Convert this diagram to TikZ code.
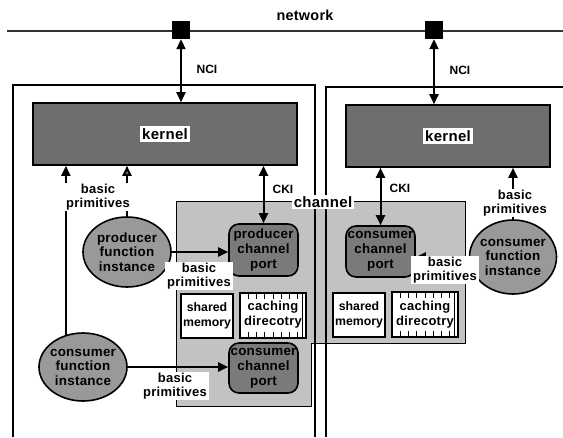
\documentclass[tikz,border=0pt]{standalone}
\usepackage{fontspec}
\setmainfont{Liberation Sans}
\newfontfamily\spfont[LetterSpace=2]{Liberation Sans}
\usetikzlibrary{arrows.meta,shapes.geometric}
\tikzset{
  netline/.style={line width=2.6pt, black!80},
  sqr/.style={fill=black, minimum size=18pt, inner sep=0pt},
  boxline/.style={line width=2.4pt, line join=miter},
  kern/.style={draw, line width=1.6pt, fill=black!57, inner sep=0pt},
  klbl/.style={fill=white, inner sep=2pt, font=\fontsize{15}{17}\spfont\bfseries},
  chregion/.style={draw, line width=0.8pt, fill=black!24},
  port/.style={draw, line width=1.6pt, fill=black!52, rounded corners=10pt, minimum width=69pt, inner sep=0pt, align=center, font=\fontsize{13.4}{15}\spfont\bfseries},
  fi/.style={ellipse, draw, line width=1.6pt, fill=black!40, inner sep=0pt},
  fitext/.style={align=center, inner sep=0pt, font=\fontsize{13.4}{14.5}\spfont\bfseries},
  membox/.style={draw, line width=2pt, fill=white, minimum width=52pt, minimum height=44pt, inner sep=0pt, align=center, font=\fontsize{12.3}{15}\selectfont\bfseries},
  cachebox/.style={draw, line width=2pt, fill=white, minimum width=66pt, minimum height=45pt, inner sep=0pt, align=center, font=\fontsize{13}{15}\spfont\bfseries,
    path picture={
      \foreach \i in {1,...,7}{
        \draw[line width=1pt] ([xshift=\i*8.25pt]path picture bounding box.north west) -- ++(0,6);
        \draw[line width=1pt] ([xshift=\i*8.25pt]path picture bounding box.south west) -- ++(0,-6);
      }
      \draw[line width=1pt] ([xshift=-4pt]path picture bounding box.north east) -- ([xshift=-4pt]path picture bounding box.south east);
    }},
  lbl/.style={fill=white, align=center, inner xsep=2pt, inner ysep=1pt, font=\fontsize{13}{14.5}\spfont\bfseries},
  ifc/.style={inner sep=1pt, font=\fontsize{12}{13}\selectfont\bfseries},
  chlbl/.style={fill=white, inner sep=1.5pt, font=\fontsize{15}{17}\spfont\bfseries},
  netlbl/.style={inner sep=1pt, font=\fontsize{14.4}{16}\spfont\bfseries},
  arr/.style={line width=2pt, -{Triangle[length=10pt,width=9pt]}},
  garr/.style={line width=2pt, -{Triangle[length=10pt,width=9pt,fill=black!55]}},
  dbl/.style={line width=2pt, {Triangle[length=10pt,width=9pt]}-{Triangle[length=10pt,width=9pt]}},
}
\begin{document}
\begin{tikzpicture}[x=1pt,y=-1pt]
\useasboundingbox (0,0) rectangle (563,437);
\fill[white] (0,0) rectangle (563,437);

% channel region
\path[chregion] (176,201) -- (465,201) -- (465,343) -- (311,343) -- (311,406) -- (176,406) -- cycle;

% network
\draw[netline] (7,31) -- (563,31);
\node[sqr] (s1) at (181,30) {};
\node[sqr] (s2) at (434,30) {};
\node[netlbl] (net) at (305,15) {network};

% node boxes
\draw[boxline] (13,437) -- (13,85) -- (315,85) -- (315,437);
\draw[boxline] (326,437) -- (326,87) -- (563,87);

% kernels
\node[kern, minimum width=264pt, minimum height=62pt] (kl) at (165,134) {};
\node[kern, minimum width=204pt, minimum height=62pt] (kr) at (448,136) {};
\node[klbl] (klt) at (kl.center) {kernel};
\node[klbl] (krt) at (kr.center) {kernel};

% ports
\node[port, minimum height=52pt] (pcp) at (263.5,250) {producer\\channel\\port};
\node[port, minimum height=50pt] (ccpl) at (263.5,368) {consumer\\channel\\port};
\node[port, minimum height=51pt] (ccpr) at (380.5,251.5) {consumer\\channel\\port};

% memory boxes
\node[membox] (sml) at (207,315.5) {shared\\memory};
\node[cachebox] (cdl) at (273,315) {caching\\direcotry};
\node[membox] (smr) at (359,315) {shared\\memory};
\node[cachebox] (cdr) at (425,314.5) {caching\\direcotry};

% function instances
\node[fi, minimum width=88pt, minimum height=70pt] (pfi) at (127,252) {};
\node[fitext] at (pfi.center) {producer\\function\\instance};
\node[fi, minimum width=88pt, minimum height=68pt] (cfil) at (83,367) {};
\node[fitext] at (cfil.center) {consumer\\function\\instance};
\node[fi, minimum width=87pt, minimum height=74pt] (cfir) at (513,257) {};
\node[fitext] at (cfir.center) {consumer\\function\\instance};

% connectors
\draw[dbl] (s1.south) -- (s1.south |- kl.north);
\draw[dbl] (s2.south) -- (s2.south |- kr.north);
\draw[dbl] (pcp.north) -- (pcp.north |- kl.south);
\draw[dbl] (ccpr.north) -- (ccpr.north |- kr.south);
\draw[arr] (pfi.east) -- (pfi.east -| pcp.west);
\draw[garr] (pfi.north) -- (pfi.north |- kl.south);
\draw[arr] (cfil.118) -- (cfil.118 |- kl.south);
\draw[arr] (cfil.east) -- (cfil.east -| ccpl.west);
\draw[arr] (cfir.north) -- (cfir.north |- kr.south);
\draw[arr] (cfir.west) -- (cfir.west -| ccpr.east);

% labels
\node[ifc] (nci1) at (207,69) {NCI};
\node[ifc] (nci2) at (460,70) {NCI};
\node[ifc] (cki1) at (283,189) {CKI};
\node[ifc] (cki2) at (400,188) {CKI};
\node[chlbl] (chan) at (323,202) {channel};
\node[lbl] (bp1) at (98,197) {basic\\primitives};
\node[lbl] (bp2) at (199,276) {basic\\primitives};
\node[lbl] (bp3) at (175,386) {basic\\primitives};
\node[lbl] (bp4) at (445,270) {basic\\primitives};
\node[lbl] (bp5) at (515,203) {basic\\primitives};
\end{tikzpicture}
\end{document}
